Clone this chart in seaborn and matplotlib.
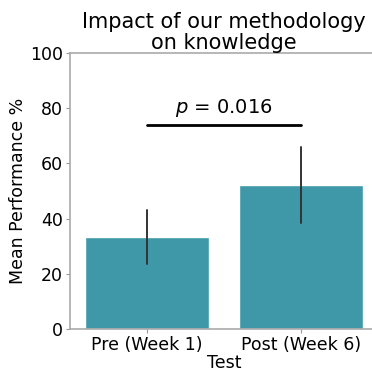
import matplotlib
matplotlib.use("Agg")
import matplotlib.pyplot as plt
import seaborn as sns
import pandas as pd

# Mean scores and bootstrap confidence bounds for each test
tests = ["Pre (Week 1)", "Post (Week 6)"]
means = [33.3, 52.1]
ci_low = [23.4, 38.3]
ci_high = [43.1, 65.8]
p_label = "$p$ = 0.016"
bracket_y = 74

sns.set_style("white")
plt.rcParams["font.family"] = ["DejaVu Sans"]
plt.rcParams["text.color"] = "black"
plt.rcParams["axes.labelcolor"] = "black"
plt.rcParams["xtick.color"] = "black"
plt.rcParams["ytick.color"] = "black"

df = pd.DataFrame({"Test": tests, "Mean Performance %": means})

fig = plt.figure(figsize=(3.72, 3.72), dpi=100)
ax = fig.add_axes([70 / 372, 1 - 329 / 372, 308 / 372, 276 / 372])

sns.barplot(data=df, x="Test", y="Mean Performance %", color="#3e98a8",
            saturation=1, errorbar=None, ax=ax, width=0.8)

# confidence-interval lines
for i, (lo, hi) in enumerate(zip(ci_low, ci_high)):
    ax.plot([i, i], [lo, hi], color="#333333", lw=1.4, zorder=3)

# significance bracket
ax.plot([0.0, 1.0], [bracket_y, bracket_y], color="black", lw=2)
ax.text(0.5, bracket_y + 2.0, p_label, ha="center", va="bottom", fontsize=14)

ax.set_ylim(0, 100)
ax.set_xlim(-0.5, 1.5)
ax.set_yticks([0, 20, 40, 60, 80, 100])
ax.tick_params(axis="both", labelsize=12.5, length=3, color="#999999",
               labelcolor="black", left=True, bottom=True, pad=2)
ax.set_xlabel("Test", fontsize=12.5, labelpad=0)
ax.set_ylabel("Mean Performance %", fontsize=12.5, labelpad=2)
ax.set_title("Impact of our methodology\non knowledge", fontsize=15,
             linespacing=1.05, pad=3)

for side in ["left", "bottom", "top", "right"]:
    ax.spines[side].set_color("#aaaaaa")
    ax.spines[side].set_linewidth(1.2)

fig.savefig("out.png", dpi=100)
